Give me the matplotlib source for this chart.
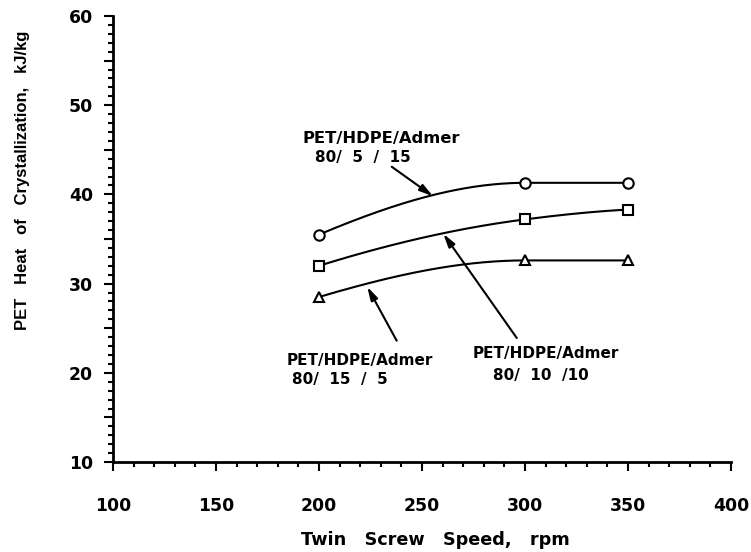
import matplotlib
matplotlib.use("Agg")
import matplotlib.pyplot as plt
import numpy as np
from matplotlib.ticker import MultipleLocator, FuncFormatter

# twin screw speed (rpm) and heat of crystallization (kJ/kg) per blend
speed = [200, 300, 350]
blend_80_5_15 = [35.5, 41.3, 41.3]
blend_80_10_10 = [32.0, 37.2, 38.3]
blend_80_15_5 = [28.5, 32.6, 32.6]


def pchip(x, y, xq):
    # monotone cubic hermite, same idea as scipy's PchipInterpolator
    x = np.asarray(x, float)
    y = np.asarray(y, float)
    h = np.diff(x)
    d = np.diff(y) / h
    m = np.zeros_like(y)
    for k in range(1, len(x) - 1):
        if d[k - 1] * d[k] > 0:
            w1 = 2 * h[k] + h[k - 1]
            w2 = h[k] + 2 * h[k - 1]
            m[k] = (w1 + w2) / (w1 / d[k - 1] + w2 / d[k])
    m[0] = ((2 * h[0] + h[1]) * d[0] - h[0] * d[1]) / (h[0] + h[1])
    if np.sign(m[0]) != np.sign(d[0]):
        m[0] = 0
    m[-1] = ((2 * h[-1] + h[-2]) * d[-1] - h[-1] * d[-2]) / (h[-1] + h[-2])
    if np.sign(m[-1]) != np.sign(d[-1]):
        m[-1] = 0
    idx = np.clip(np.searchsorted(x, xq) - 1, 0, len(x) - 2)
    t = (xq - x[idx]) / h[idx]
    h00 = 2 * t**3 - 3 * t**2 + 1
    h10 = t**3 - 2 * t**2 + t
    h01 = -2 * t**3 + 3 * t**2
    h11 = t**3 - t**2
    return (h00 * y[idx] + h10 * h[idx] * m[idx]
            + h01 * y[idx + 1] + h11 * h[idx] * m[idx + 1])


fig = plt.figure(figsize=(7.51, 5.52), dpi=100)
ax = fig.add_axes([0.1505, 0.163, 0.8229, 0.808])

xs = np.linspace(speed[0], speed[-1], 200)
for vals, mk, ms in [(blend_80_5_15, "o", 7.5),
                     (blend_80_10_10, "s", 6.5),
                     (blend_80_15_5, "^", 6.5)]:
    ax.plot(xs, pchip(speed, vals, xs), color="black", lw=1.5)
    ax.plot(speed, vals, ls="none", marker=mk, ms=ms, mfc="white",
            mec="black", mew=1.5)

ax.set_xlim(100, 400)
ax.set_ylim(10, 60)

for side in ["top", "right"]:
    ax.spines[side].set_visible(False)
for side in ["left", "bottom"]:
    ax.spines[side].set_linewidth(2)

ax.xaxis.set_major_locator(MultipleLocator(50))
ax.xaxis.set_minor_locator(MultipleLocator(10))
ax.yaxis.set_major_locator(MultipleLocator(5))
ax.yaxis.set_minor_locator(MultipleLocator(1))
ax.yaxis.set_major_formatter(
    FuncFormatter(lambda v, p: "%d" % v if v % 10 == 0 else ""))

ax.tick_params(axis="both", which="major", length=6.5, width=1.5,
               direction="out", color="black")
ax.tick_params(axis="both", which="minor", length=3.5, width=1.5,
               direction="out", color="black")
ax.tick_params(axis="y", which="major", pad=8)
ax.tick_params(axis="x", which="major", pad=19)
for lbl in ax.get_xticklabels() + ax.get_yticklabels():
    lbl.set_family("DejaVu Sans")
    lbl.set_weight("bold")
    lbl.set_size(12.4)

fig.text(0.58, 0.022, "Twin   Screw   Speed,   rpm", ha="center",
         va="center", family="DejaVu Sans", weight="bold", size=12.7)
fig.text(0.03, 0.674, "PET   Heat   of   Crystallization,   kJ/kg",
         rotation=90, ha="center", va="center",
         family="Liberation Sans", weight="bold", size=12)

# curve labels
note = dict(family="DejaVu Sans", weight="bold", ha="left", va="center")
ax.text(192.2, 46.3, "PET/HDPE/Admer", size=11.8, **note)
ax.text(198.1, 44.1, "80/  5  /  15", size=11.0, **note)
ax.text(184.5, 21.4, "PET/HDPE/Admer", size=11.0, **note)
ax.text(186.9, 19.3, "80/  15  /  5", size=11.0, **note)
ax.text(274.8, 22.2, "PET/HDPE/Admer", size=11.0, **note)
ax.text(284.5, 19.75, "80/  10  /10", size=11.0, **note)

arrow = dict(arrowstyle="-|>,head_length=0.8,head_width=0.22",
             color="black", lw=1.5, shrinkA=0, shrinkB=0)
ax.annotate("", xy=(255.3, 39.8), xytext=(235.3, 43.1), arrowprops=arrow)
ax.annotate("", xy=(260.3, 35.6), xytext=(296.0, 23.9), arrowprops=arrow)
ax.annotate("", xy=(223.4, 29.65), xytext=(237.7, 23.6), arrowprops=arrow)

fig.savefig("out.png", dpi=100)
